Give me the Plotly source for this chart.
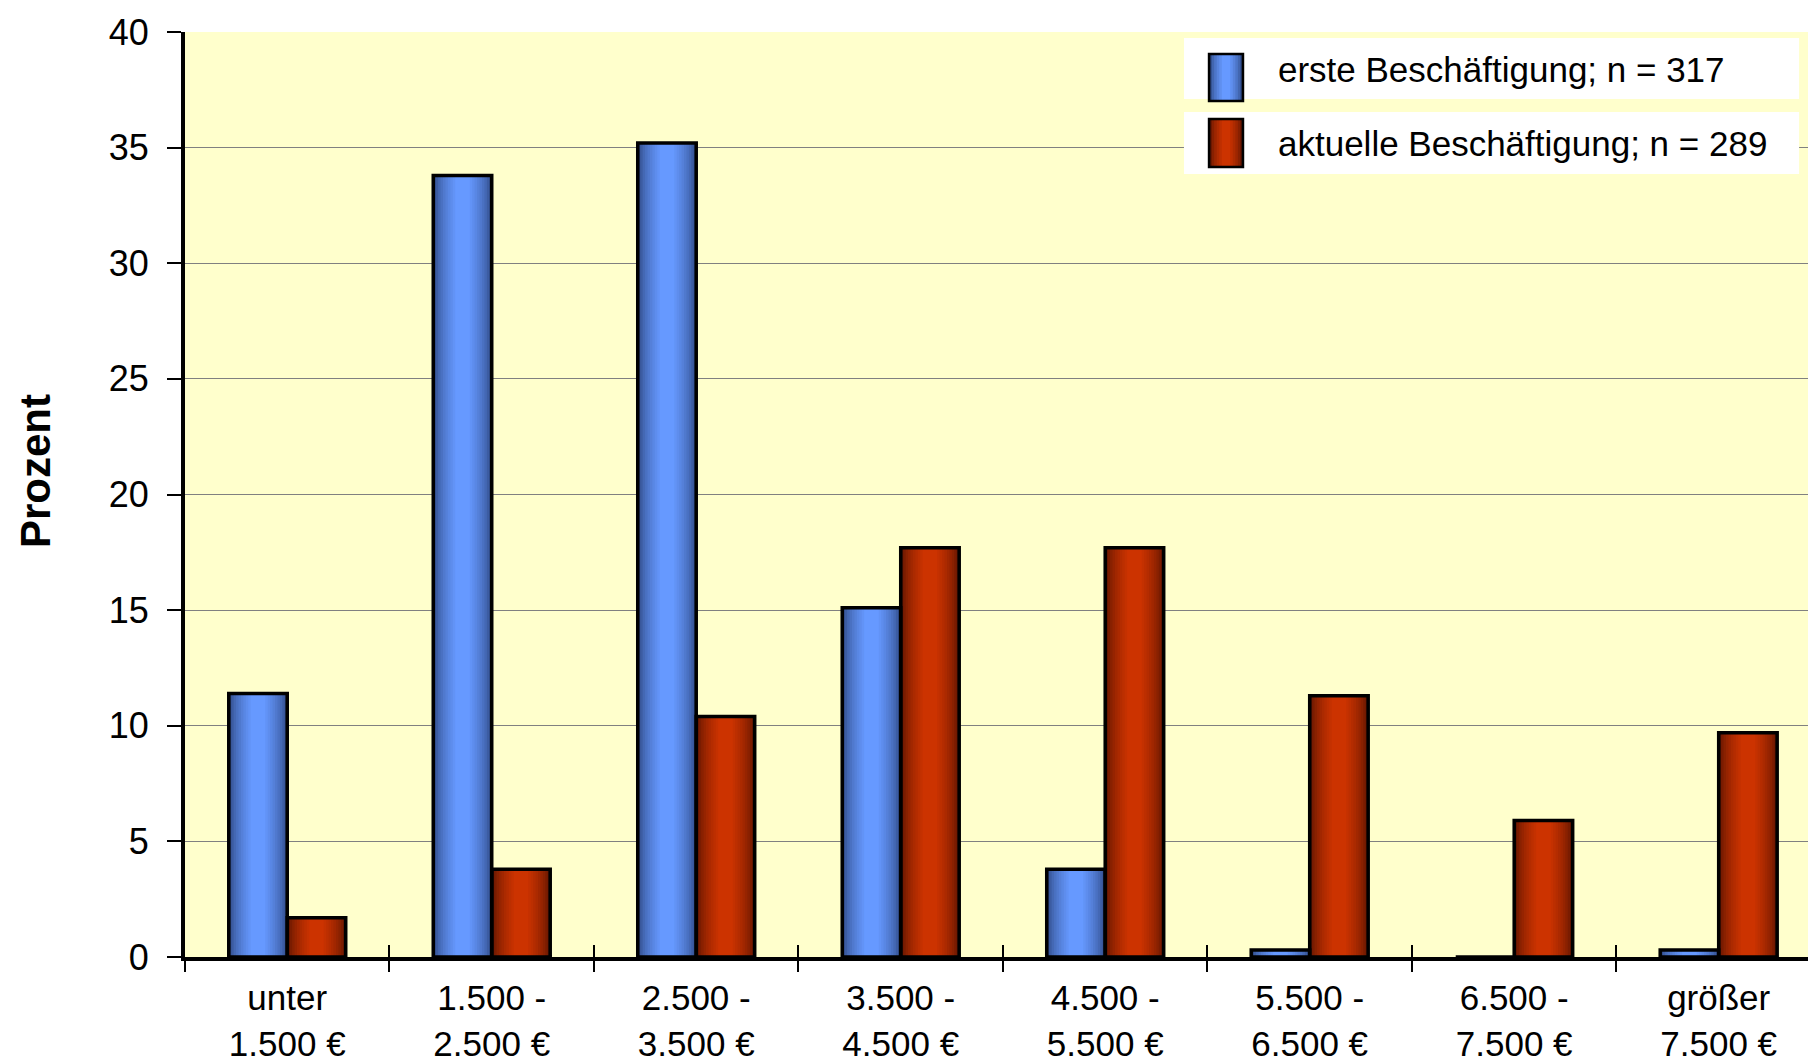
import plotly.graph_objects as go

categories = ["unter<br>1.500 €", "1.500 -<br>2.500 €", "2.500 -<br>3.500 €", "3.500 -<br>4.500 €",
              "4.500 -<br>5.500 €", "5.500 -<br>6.500 €", "6.500 -<br>7.500 €", "größer<br>7.500 €"]
erste = [11.4, 33.8, 35.2, 15.1, 3.8, 0.3, 0.0, 0.3]
aktuelle = [1.7, 3.8, 10.4, 17.7, 17.7, 11.3, 5.9, 9.7]
names = ["erste Beschäftigung; n = 317", "aktuelle Beschäftigung; n = 289"]
y_ticks = [0, 5, 10, 15, 20, 25, 30, 35, 40]

FONT = "Liberation Sans, Arial, sans-serif"
W = 0.286
N = 10

def mix(c1, c2, t):
    return "rgb(%d,%d,%d)" % tuple(round(a + (b - a) * t) for a, b in zip(c1, c2))

styles = [
    dict(values=erste, dark=(44, 70, 128), light=(102, 153, 255), base=-W),
    dict(values=aktuelle, dark=(92, 20, 0), light=(204, 51, 0), base=0.0),
]

fig = go.Figure()

for s, nm in zip(styles, names):
    for k in range(N):
        t = k / (N - 1)
        d = (W / 2) * 0.75 * t
        fig.add_trace(go.Bar(
            x=categories, y=s["values"], offset=s["base"] + d, width=W - 2 * d,
            marker=dict(color=mix(s["dark"], s["light"], t ** 0.6), line=dict(width=0)),
            showlegend=False, legendgroup=nm, hoverinfo="skip"))
    fig.add_trace(go.Bar(
        x=categories, y=s["values"], offset=s["base"], width=W, name=nm,
        marker=dict(color="rgba(0,0,0,0)", line=dict(color="black", width=3.5)),
        showlegend=False, legendgroup=nm, xaxis="x2"))

# legend entries (text only; swatches drawn as shapes)
for s, nm in zip(styles, names):
    fig.add_trace(go.Bar(x=[categories[0]], y=[None], name=nm, legendgroup=nm,
                         marker=dict(color="rgba(0,0,0,0)", line=dict(width=0))))

# plot area geometry (figure pixels)
T, B = 24, 110
PH = 1059 - T - B

def py(fig_y):
    return 1 - (fig_y - T) / PH

# legend boxes and gradient swatches
shapes = []
for (a, b) in [(30, 91), (104, 166)]:
    shapes.append(dict(type="rect", xref="paper", yref="paper", x0=0.6095, x1=0.9848,
                       y0=py(b), y1=py(a), fillcolor="white", line=dict(width=0), layer="above"))
SX0, SX1 = 0.6248, 0.6455
for s, (a, b) in zip(styles, [(46, 93), (111, 159)]):
    M = 6
    for k in range(M):
        t = k / (M - 1)
        d = (SX1 - SX0) / 2 * 0.75 * t
        shapes.append(dict(type="rect", xref="paper", yref="paper", x0=SX0 + d, x1=SX1 - d,
                           y0=py(b), y1=py(a), fillcolor=mix(s["dark"], s["light"], t ** 0.6),
                           line=dict(width=0), layer="above"))
    shapes.append(dict(type="rect", xref="paper", yref="paper", x0=SX0, x1=SX1,
                       y0=py(b), y1=py(a), fillcolor="rgba(0,0,0,0)",
                       line=dict(color="black", width=2.5), layer="above"))

fig.update_layout(
    width=1816, height=1059,
    barmode="overlay",
    paper_bgcolor="white", plot_bgcolor="#FFFFCC",
    margin=dict(l=177, r=0, t=T, b=B),
    font=dict(family=FONT, size=34, color="black"),
    showlegend=True,
    legend=dict(x=0.615, y=py(31), xanchor="left", yanchor="top", bgcolor="rgba(0,0,0,0)",
                font=dict(size=35), traceorder="grouped", tracegroupgap=26,
                itemwidth=75),
    shapes=shapes,
    xaxis=dict(type="category", categoryorder="array", categoryarray=categories,
               range=[-0.5, 7.515], tickson="boundaries", ticks="outside", ticklen=11,
               tickwidth=2, tickcolor="black", showline=True, linecolor="black", linewidth=4,
               showgrid=False, tickfont=dict(size=35), automargin=False,
               ticklabelstandoff=7, ticklabeloverflow="allow"),
    xaxis2=dict(type="category", categoryorder="array", categoryarray=categories,
                overlaying="x", anchor="y", matches="x", tickson="boundaries",
                ticks="inside", ticklen=12, tickwidth=2, tickcolor="black",
                showticklabels=False, showline=False, showgrid=False, automargin=False),
    yaxis=dict(range=[0, 40], tickvals=y_ticks, ticks="outside", ticklen=14, tickwidth=2,
               tickcolor="black", showline=True, linecolor="black", linewidth=4,
               showgrid=True, gridcolor="#808080", gridwidth=1, zeroline=False,
               tickfont=dict(size=36), automargin=False, ticklabelstandoff=11,
               ticklabeloverflow="allow"),
    annotations=[dict(text="<b>Prozent</b>", xref="paper", yref="paper", x=-0.0915, y=py(463),
                      xanchor="center", yanchor="middle", textangle=-90, showarrow=False,
                      font=dict(size=42))],
)

fig.write_html("out.html")
